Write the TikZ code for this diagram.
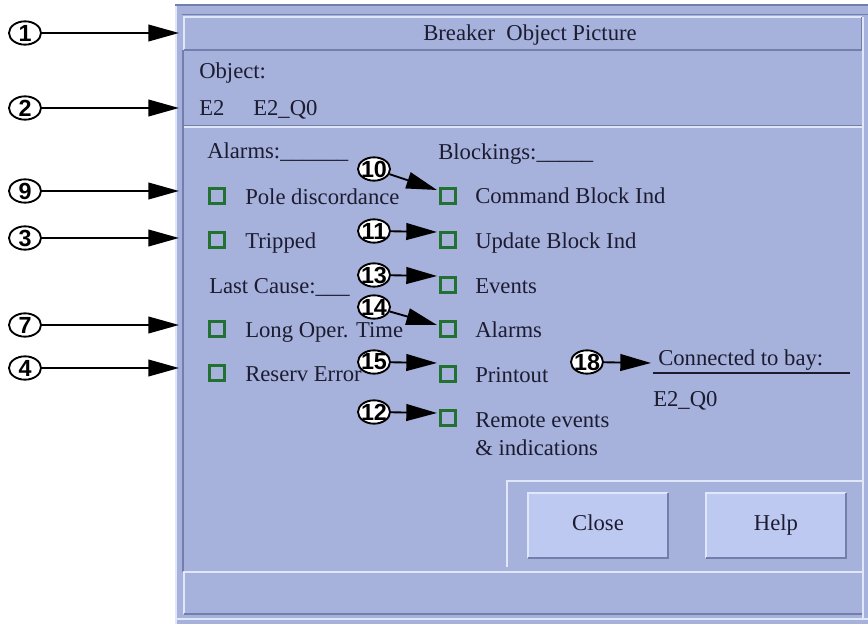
\documentclass[tikz,border=0pt]{standalone}
\usepackage{fontspec}
\setmainfont{Liberation Serif}
\newfontfamily\calloutfont{Liberation Sans}
\usetikzlibrary{arrows.meta,shapes.geometric}
\definecolor{panel}{RGB}{166,177,220}
\definecolor{btnfill}{RGB}{190,201,242}
\definecolor{hilite}{RGB}{224,231,251}
\definecolor{shade}{RGB}{116,126,170}
\definecolor{ink}{RGB}{28,28,48}
\definecolor{cbgreen}{RGB}{34,112,50}
\tikzset{
  lbl/.style={inner sep=0pt, anchor=base west, text=ink, font=\fontsize{17}{21}\selectfont},
  cbox/.style={draw=cbgreen, line width=2pt, minimum size=11pt, inner sep=0pt},
  callout/.style={ellipse, draw=black, fill=white, line width=1.4pt, minimum width=24pt, minimum height=17.5pt, inner sep=-3pt, font=\calloutfont\bfseries\fontsize{17.5}{18}\selectfont},
  arr/.style={line width=1.4pt, -{Triangle[length=23pt,width=12.5pt]}},
  hi/.style={draw=hilite, line width=1.5pt},
  sh/.style={draw=shade, line width=1.1pt},
  button/.style={fill=btnfill, inner sep=0pt, minimum width=105pt, minimum height=48.75pt, text=ink, text height=11pt, text depth=3pt, font=\fontsize{17}{21}\selectfont}
}
\begin{document}
\begin{tikzpicture}[x={(0.75pt,0)}, y={(0,-0.75pt)}]
\useasboundingbox (0,0) rectangle (868,624);
\fill[white] (0,0) rectangle (868,624);
% window panel
\fill[panel] (175,5) rectangle (868,624);
\draw[hi] (176,6) -- (176,624);
\draw[sh] (175,5) -- (868,5);
\draw[sh] (183,50) -- (183,572);
% title bar
\draw[sh] (182,14.5) -- (868,14.5);
\draw[hi] (184,50) -- (184,17) -- (862,17);
\draw[sh] (184,50) -- (862,50) -- (862,17);
\draw[hi] (863,17) -- (863,619);
% separator
\draw[sh] (184,125.5) -- (862,125.5);
\draw[hi] (184,127.5) -- (862,127.5);
% button frame
\draw[hi] (507,567) -- (507,481) -- (862,481);
% status bar
\draw[hi] (184,614) -- (184,572) -- (862,572);
\draw[sh] (184,614) -- (862,614);
\draw[hi] (176,619) -- (868,619);

% title and header texts
\node[lbl, anchor=base] (title) at (530,41) {Breaker\ \ Object Picture};
\node[lbl] (objlbl) at (199,79) {Object:};
\node[lbl] (obje2) at (199,116) {E2};
\node[lbl] (objq0) at (253,116) {E2\_Q0};

% left column
\node[lbl] (alarmshd) at (207,159) {Alarms:\_\_\_\_\_\_};
\node[cbox] (cbpole) at (217,196) {};
\node[lbl] (pole) at (245,205) {Pole discordance};
\node[cbox] (cbtrip) at (217,240) {};
\node[lbl] (trip) at (245,248) {Tripped};
\node[lbl] (lastcause) at (209,293) {Last Cause:\_\_\_};
\node[cbox] (cblong) at (217,329) {};
\node[lbl] (long) at (245,337) {Long Oper. Time};
\node[cbox] (cbres) at (217,373) {};
\node[lbl] (res) at (245,381) {Reserv Error};

% right column
\node[lbl] (blockhd) at (438,160) {Blockings:\_\_\_\_\_};
\node[cbox] (cbcmd) at (448,196) {};
\node[lbl] (cmd) at (475,204) {Command Block Ind};
\node[cbox] (cbupd) at (448,240) {};
\node[lbl] (upd) at (475,248) {Update Block Ind};
\node[cbox] (cbev) at (448,285) {};
\node[lbl] (ev) at (475,293) {Events};
\node[cbox] (cbal) at (448,329) {};
\node[lbl] (al) at (475,337) {Alarms};
\node[cbox] (cbpr) at (448,374) {};
\node[lbl] (pr) at (475,382) {Printout};
\node[cbox] (cbrem) at (448,418) {};
\node[lbl] (rem) at (475,427) {Remote events};
\node[lbl] (remb) at (475,455) {\& indications};

% connected to bay
\node[lbl] (conn) at (658,365) {Connected to bay:};
\coordinate (connL) at (653,373);
\coordinate (connR) at (850,373);
\draw[ink, line width=1pt] (connL) -- (connR);
\node[lbl] (connq0) at (653,406) {E2\_Q0};

% buttons
\node[button] (close) at (598,525.5) {Close};
\draw[hi] (close.south west) -- (close.north west) -- (close.north east);
\draw[sh, line width=1.5pt] (close.south west) -- (close.south east) -- (close.north east);
\node[button] (help) at (776,525.5) {Help};
\draw[hi] (help.south west) -- (help.north west) -- (help.north east);
\draw[sh, line width=1.5pt] (help.south west) -- (help.south east) -- (help.north east);

% left callouts
\node[callout] (c1) at (25,33) {1};
\node[callout] (c2) at (25,108) {2};
\node[callout] (c9) at (25,191) {9};
\node[callout] (c3) at (25,238) {3};
\node[callout] (c7) at (25,325) {7};
\node[callout] (c4) at (25,368) {4};
\coordinate (t1) at (179,33);
\coordinate (t2) at (179,108);
\coordinate (t9) at (179,191);
\coordinate (t3) at (179,238);
\coordinate (t7) at (179,325);
\coordinate (t4) at (179,368);
\foreach \n in {1,2,9,3,7,4} { \draw[arr] (c\n) -- (t\n); }

% middle callouts
\node[callout] (c10) at (374,169) {10};
\node[callout] (c11) at (374,231) {11};
\node[callout] (c13) at (374,275) {13};
\node[callout] (c14) at (374,307) {14};
\node[callout] (c15) at (374,362) {15};
\node[callout] (c12) at (374,412) {12};
\node[callout] (c18) at (587,362) {18};
\coordinate (t10) at (437,190);
\coordinate (t11) at (437,232);
\coordinate (t13) at (437,276);
\coordinate (t14) at (437,325);
\coordinate (t15) at (437,363);
\coordinate (t12) at (437,413);
\coordinate (t18) at (651,363);
\foreach \n in {10,11,13,14,15,12,18} { \draw[arr] (c\n) -- (t\n); }
\end{tikzpicture}
\end{document}
